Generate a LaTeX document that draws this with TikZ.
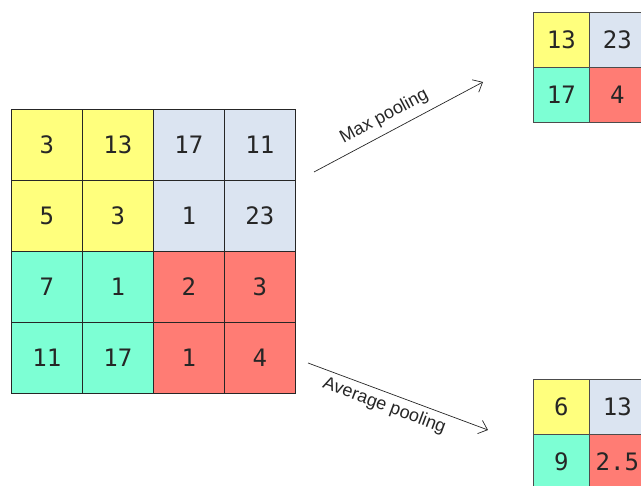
\documentclass[tikz,border=0pt]{standalone}
\usepackage{fontspec}
\setmainfont{Liberation Sans}
\newfontfamily\numfont{DejaVu Sans Mono}
\usetikzlibrary{arrows.meta}
\definecolor{cyel}{RGB}{255,255,125}
\definecolor{cblu}{RGB}{219,228,241}
\definecolor{ctea}{RGB}{125,255,212}
\definecolor{cred}{RGB}{255,124,116}
\tikzset{
  big/.style={draw=black!85, line width=0.8pt, minimum width=71pt, minimum height=71pt, inner sep=0pt, anchor=north west, font=\numfont\fontsize{24}{24}\selectfont, text=black!85},
  small/.style={draw=black!70, line width=0.6pt, minimum width=56pt, minimum height=55pt, inner sep=0pt, anchor=north west, font=\numfont\fontsize{24}{24}\selectfont, text=black!85},
  arr/.style={line width=0.7pt, draw=black!85, -{Straight Barb[length=8pt,width=14pt,line width=0.7pt]}},
  lbl/.style={font=\fontsize{18}{18}\selectfont, text=black!85, inner sep=0pt}
}
\begin{document}
\begin{tikzpicture}[x=1pt,y=-1pt]
\useasboundingbox (0,0) rectangle (641,486);
\clip (0,0) rectangle (641,486);
% left grid
\node[big, fill=cyel] (a11) at (11,109) {3};
\node[big, fill=cyel] (a12) at (82,109) {13};
\node[big, fill=cblu] (a13) at (153,109) {17};
\node[big, fill=cblu] (a14) at (224,109) {11};
\node[big, fill=cyel] (a21) at (11,180) {5};
\node[big, fill=cyel] (a22) at (82,180) {3};
\node[big, fill=cblu] (a23) at (153,180) {1};
\node[big, fill=cblu] (a24) at (224,180) {23};
\node[big, fill=ctea] (a31) at (11,251) {7};
\node[big, fill=ctea] (a32) at (82,251) {1};
\node[big, fill=cred] (a33) at (153,251) {2};
\node[big, fill=cred] (a34) at (224,251) {3};
\node[big, fill=ctea] (a41) at (11,322) {11};
\node[big, fill=ctea] (a42) at (82,322) {17};
\node[big, fill=cred] (a43) at (153,322) {1};
\node[big, fill=cred] (a44) at (224,322) {4};
% max pooled
\node[small, fill=cyel] (m11) at (533,12) {13};
\node[small, fill=cblu] (m12) at (589,12) {23};
\node[small, fill=ctea] (m21) at (533,67) {17};
\node[small, fill=cred] (m22) at (589,67) {4};
% average pooled
\node[small, fill=cyel] (v11) at (533,379) {6};
\node[small, fill=cblu] (v12) at (589,379) {13};
\node[small, fill=ctea] (v21) at (533,434) {9};
\node[small, fill=cred] (v22) at (589,434) {2.5};
% arrows
\coordinate (ms) at (314,172);
\coordinate (me) at (483,82);
\coordinate (as) at (308,363);
\coordinate (ae) at (488,430);
\draw[arr] (ms) -- (me) node[pos=0.46, above=7pt, sloped, lbl] (ml) {Max pooling};
\draw[arr] (as) -- (ae) node[pos=0.45, below=5pt, sloped, lbl] (al) {Average pooling};
\end{tikzpicture}
\end{document}
